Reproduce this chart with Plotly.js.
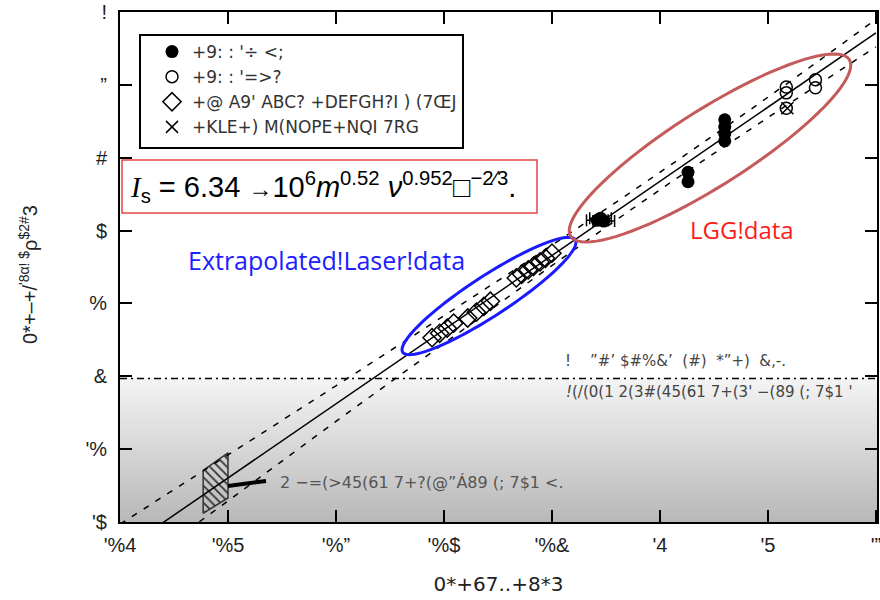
<!DOCTYPE html>
<html><head><meta charset="utf-8">
<script src="https://cdn.plot.ly/plotly-3.0.1.min.js"></script>
<style>body{margin:0;background:#fff;} #chart{width:880px;height:600px;}</style>
</head><body><div id="chart"></div>
<script>
// ---- tick labels ----
const xTickVals = [0,1,2,3,4,5,6,7];
const xTickText = ["'%4","'%5","'%”","'%$","'%&","'4","'5","'”"];
const yTickVals = [0,1,2,3,4,5,6,7];
const yTickText = ["'$","'%","&","%","$","#","”","!"];

// ---- series ----
const lggFilledX = [4.42,4.45,4.48,5.26,5.26,5.60,5.60,5.60,5.60];
const lggFilledY = [4.14,4.17,4.13,4.80,4.67,5.52,5.42,5.33,5.23];
const lggFilledErr = [0.1,0.1,0.1,0,0,0,0,0,0];
const lggOpenX = [6.17,6.17,6.17,6.44,6.44];
const lggOpenY = [5.97,5.89,5.68,6.07,5.96];
const laserX = [2.89,2.96,3.03,3.09,3.22,3.30,3.37,3.43,3.67,3.72,3.78,3.83,3.89,3.94,4.00];
const laserY = [2.53,2.59,2.66,2.73,2.80,2.88,2.96,3.03,3.35,3.40,3.46,3.51,3.57,3.62,3.69];
const crossX = [6.18];
const crossY = [5.68];
const fitX = [0,7];
const fitY = [-0.414,6.712];
const bandX = [0,1,2,3,4,5,6,7];
const bandUpper = [-0.03,0.92,1.87,2.83,3.80,4.80,5.83,6.90];
const bandLower = [-0.79,0.29,1.38,2.45,3.52,4.56,5.55,6.52];
const thresholdY = 1.97;
const boxX = [0.77,1.0,1.0,0.77];
const boxY = [0.71,0.95,0.33,0.12];

const legendNames = ["+9: : '÷ <;", "+9: : '=>?", "+@ A9' ABC? +DEFGH?I ) (7ŒJ", "+KLE+) M(NOPE+NQI 7RG"];

// ---- pixel helpers for decorations ----
const L=120, R=877, T=12, B=522, XMAX=7.01, YMAX=7;
const px2x = p => (p-L)/(R-L)*XMAX;
const py2y = p => (B-p)/(B-T)*YMAX;
const px2p = p => (p-L)/(R-L);
const py2p = p => (B-p)/(B-T);
function ellipsePath(cx,cy,a,b,angDeg){
  const t=angDeg*Math.PI/180; let d='';
  for(let i=0;i<=90;i++){
    const th=i/90*2*Math.PI;
    const px=cx+a*Math.cos(th)*Math.cos(t)-b*Math.sin(th)*Math.sin(t);
    const py=cy+a*Math.cos(th)*Math.sin(t)+b*Math.sin(th)*Math.cos(t);
    d+=(i?'L':'M')+px2x(px).toFixed(4)+','+py2y(py).toFixed(4);
  }
  return d+'Z';
}

const traces = [
  {x:[0,XMAX,XMAX,0,0], y:[0,0,thresholdY,thresholdY,0], mode:'lines', fill:'toself',
   line:{width:0,color:'rgba(0,0,0,0)'}, fillcolor:'#dddddd',
   fillgradient:{type:'vertical', colorscale:[[0,'#b8b8b8'],[1,'#f4f4f4']]},
   showlegend:false, hoverinfo:'skip'},
  {x:boxX.concat([boxX[0]]), y:boxY.concat([boxY[0]]), mode:'lines', fill:'toself',
   line:{color:'#333',width:1.5}, fillcolor:'rgba(0,0,0,0)',
   fillpattern:{shape:'\\', fgcolor:'#333', bgcolor:'rgba(0,0,0,0)', size:6, solidity:0.3},
   showlegend:false, hoverinfo:'skip'},
  {x:fitX, y:fitY, mode:'lines', line:{color:'#000',width:1.5}, showlegend:false},
  {x:bandX, y:bandUpper, mode:'lines', line:{color:'#000',width:1.5,dash:'6px,8px',shape:'spline'}, showlegend:false},
  {x:bandX, y:bandLower, mode:'lines', line:{color:'#000',width:1.5,dash:'6px,8px',shape:'spline'}, showlegend:false},
  {x:lggFilledX, y:lggFilledY, mode:'markers', name:legendNames[0],
   marker:{symbol:'circle', size:13, color:'#000'},
   error_x:{type:'data', array:lggFilledErr, visible:true, color:'#000', thickness:1.5, width:6}},
  {x:lggOpenX, y:lggOpenY, mode:'markers', name:legendNames[1],
   marker:{symbol:'circle-open', size:12, color:'#000', line:{width:1.5}}},
  {x:laserX, y:laserY, mode:'markers', name:legendNames[2],
   marker:{symbol:'diamond-open', size:14, color:'#000', line:{width:1.5}}},
  {x:crossX, y:crossY, mode:'markers', name:legendNames[3],
   marker:{symbol:'x-thin-open', size:12, color:'#000', line:{width:1.5}}}
];

const shapes = [
  {type:'line', xref:'x', yref:'y', x0:0, x1:XMAX, y0:thresholdY, y1:thresholdY,
   line:{color:'#000', width:1.5, dash:'7px,4px,2px,4px'}},
  {type:'path', xref:'x', yref:'y', path:ellipsePath(489,296,103,20,-33.1), line:{color:'#1a1aff',width:3}},
  {type:'path', xref:'x', yref:'y', path:ellipsePath(710,148,165,38,-32.4), line:{color:'#c55a5a',width:3}},
  {type:'line', xref:'x', yref:'y', x0:px2x(228), y0:py2y(486), x1:px2x(266), y1:py2y(481), line:{color:'#000',width:4}},
  {type:'rect', xref:'paper', yref:'paper', x0:px2p(140), x1:px2p(463), y0:py2p(148), y1:py2p(35), line:{color:'#000',width:2}},
  {type:'rect', xref:'paper', yref:'paper', x0:px2p(122), x1:px2p(537), y0:py2p(213), y1:py2p(160), line:{color:'#e04545',width:1.5}}
];

const annotations = [
  {xref:'paper', yref:'paper', x:px2p(128), y:py2p(187), xanchor:'left', yanchor:'middle', showarrow:false,
   font:{size:29, color:'#000', family:'Liberation Sans, Arial, sans-serif'},
   text:'<span style="font-family:Liberation Serif"><i>I</i></span><sub>s</sub> = 6.34 <span style="font-size:24px">→</span>10<sup>6</sup><i>m</i><sup>0.52</sup> <i>ν</i><sup>0.952</sup>□<sup>−2⁄3</sup>.'},
  {xref:'paper', yref:'paper', x:px2p(186), y:py2p(260), xanchor:'left', yanchor:'middle', showarrow:false,
   font:{size:25, color:'#2020ff', family:'Open Sans, sans-serif'}, text:'Extrapolated!Laser!data'},
  {xref:'paper', yref:'paper', x:px2p(688), y:py2p(229), xanchor:'left', yanchor:'middle', showarrow:false,
   font:{size:24, color:'#ff1a1a', family:'Open Sans, sans-serif'}, text:'LGG!data'},
  {xref:'paper', yref:'paper', x:px2p(563), y:py2p(361), xanchor:'left', yanchor:'middle', showarrow:false,
   font:{size:15, color:'#444', family:'DejaVu Sans, sans-serif'}, text:"!    ”#’ $#%&’  (#)  *”+)  &‚-."},
  {xref:'paper', yref:'paper', x:px2p(564), y:py2p(392), xanchor:'left', yanchor:'middle', showarrow:false,
   font:{size:15, color:'#444', family:'DejaVu Sans, sans-serif'}, text:"<i>!</i>(/(0(1 2(3#(45(61 7+(3' −(89 (; 7$1 '"},
  {xref:'paper', yref:'paper', x:px2p(278), y:py2p(482), xanchor:'left', yanchor:'middle', showarrow:false,
   font:{size:16, color:'#555', family:'DejaVu Sans, sans-serif'}, text:"2 −=(>45(61 7+?(@”Á89 (; 7$1 <."},
  {xref:'paper', yref:'paper', x:px2p(28), y:py2p(275), xanchor:'center', yanchor:'middle', showarrow:false, textangle:-90,
   font:{size:20, color:'#222'}, text:"0*+–+/<sup>'8α! $</sup>ρ<sup>$2#</sup>3"}
];

const layout = {
  width:880, height:600,
  margin:{l:L, r:880-R, t:T, b:600-B},
  paper_bgcolor:'#fff', plot_bgcolor:'#fff',
  font:{family:'Liberation Sans, Arial, sans-serif', color:'#000'},
  showlegend:true,
  legend:{x:px2p(152), y:py2p(34), xanchor:'left', yanchor:'top', bgcolor:'rgba(0,0,0,0)', borderwidth:0,
          font:{size:17, color:'#333', family:'DejaVu Sans, sans-serif'}, traceorder:'normal'},
  xaxis:{range:[0,XMAX], tickvals:xTickVals, ticktext:xTickText, ticks:'inside', ticklen:12, tickwidth:2, tickcolor:'#000',
         showline:true, linewidth:2, linecolor:'#000', mirror:'ticks', showgrid:false, zeroline:false,
         tickfont:{size:20, color:'#222'}, ticklabelstandoff:4, ticklabeloverflow:'allow',
         title:{text:'0*+67..+8*3', font:{size:20, color:'#222', family:'DejaVu Sans, sans-serif'}, standoff:22}},
  yaxis:{range:[0,YMAX], tickvals:yTickVals, ticktext:yTickText, ticks:'inside', ticklen:12, tickwidth:2, tickcolor:'#000',
         showline:true, linewidth:2, linecolor:'#000', mirror:'ticks', showgrid:false, zeroline:false,
         tickfont:{size:20, color:'#222'}, ticklabelstandoff:7, ticklabeloverflow:'allow'},
  shapes:shapes, annotations:annotations
};

Plotly.newPlot('chart', traces, layout, {staticPlot:true, displayModeBar:false});
</script></body></html>
